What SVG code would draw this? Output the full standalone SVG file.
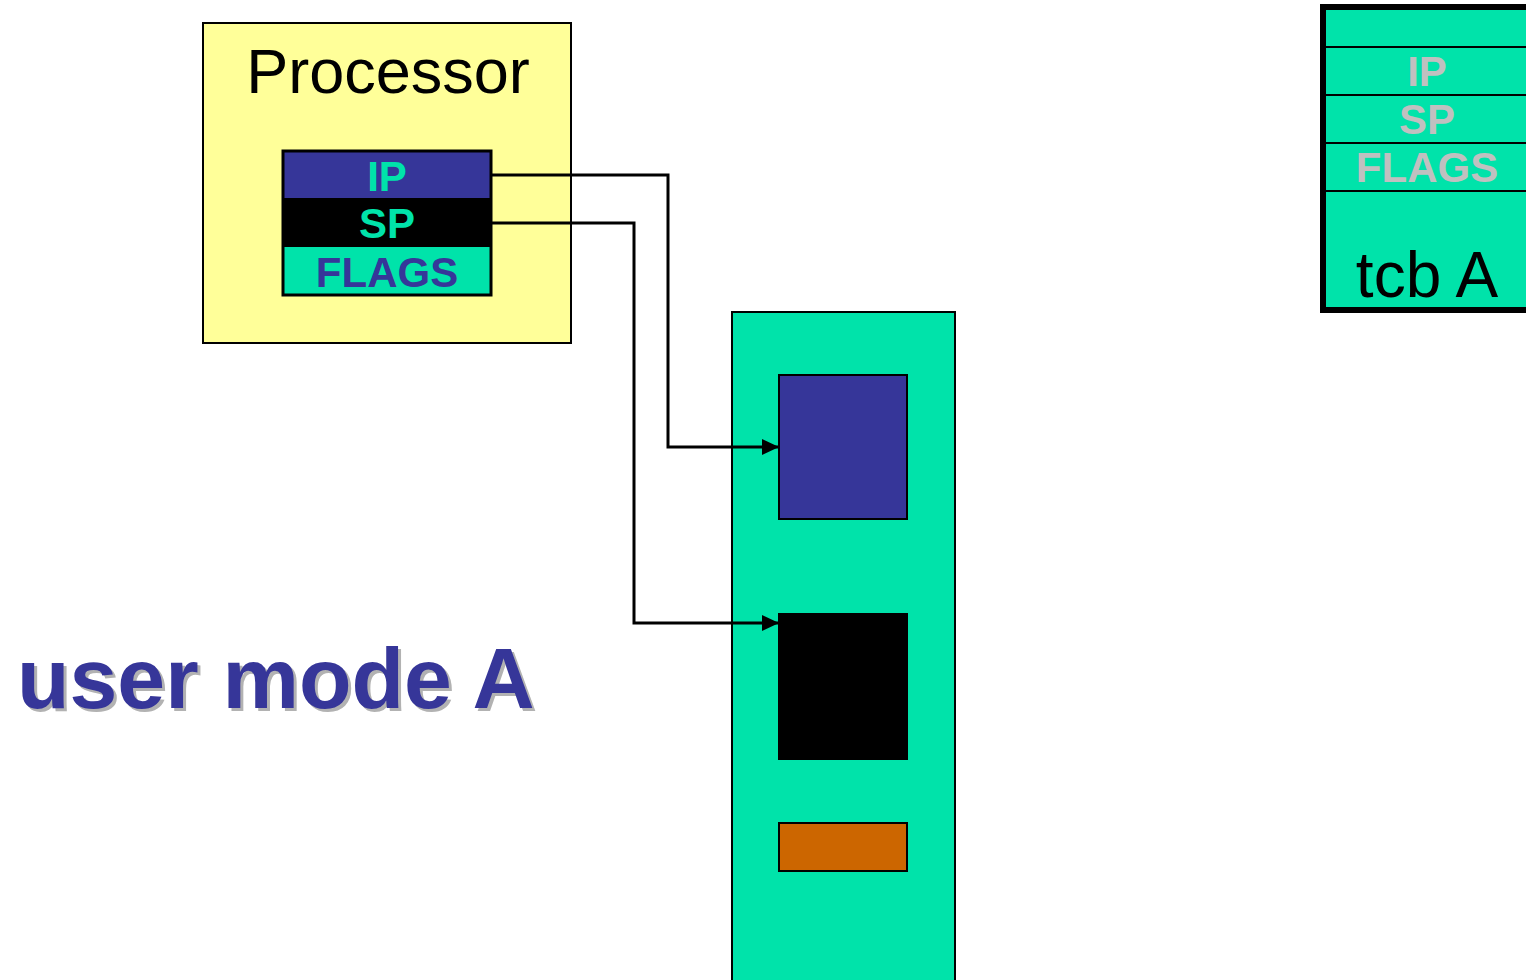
<svg xmlns="http://www.w3.org/2000/svg" width="1526" height="980" viewBox="0 0 1526 980">
  <style>
    .sans { font-family: "Liberation Sans", Arial, sans-serif; }
    .bold { font-weight: bold; }
    .reg { font-size: 42px; text-anchor: middle; }
    .tcbt { font-size: 42px; text-anchor: middle; fill: #C0C0C0; font-weight: bold; }
    .wire { fill: none; stroke: #000; stroke-width: 3; }
  </style>
  <defs>
    <marker id="arrow" markerUnits="userSpaceOnUse" markerWidth="17" markerHeight="16" refX="17" refY="8" orient="auto">
      <path d="M0,0 L17,8 L0,16 Z" fill="#000"/>
    </marker>
  </defs>
  <rect width="1526" height="980" fill="#fff"/>

  <g id="processor">
    <rect x="203" y="23" width="368" height="320" fill="#FFFF99" stroke="#000" stroke-width="2"/>
    <text class="sans" x="388" y="93" font-size="63" text-anchor="middle">Processor</text>
  </g>

  <g id="registers">
    <rect x="283" y="151" width="208" height="47" fill="#363699"/>
    <rect x="283" y="198" width="208" height="49" fill="#000"/>
    <rect x="283" y="247" width="208" height="48" fill="#00E3AA"/>
    <rect x="283" y="151" width="208" height="144" fill="none" stroke="#000" stroke-width="3"/>
    <text class="sans bold reg" x="387" y="191" fill="#00E3AA">IP</text>
    <text class="sans bold reg" x="387" y="238" fill="#00E3AA">SP</text>
    <text class="sans bold reg" x="387" y="287" fill="#363699">FLAGS</text>
  </g>

  <g id="memory">
    <rect x="732" y="312" width="223" height="680" fill="#00E3AA" stroke="#000" stroke-width="2"/>
    <rect x="779" y="375" width="128" height="144" fill="#363699" stroke="#000" stroke-width="2"/>
    <rect x="779" y="614" width="128" height="145" fill="#000" stroke="#000" stroke-width="2"/>
    <rect x="779" y="823" width="128" height="48" fill="#CC6600" stroke="#000" stroke-width="2"/>
  </g>

  <g id="tcb">
    <rect x="1323" y="7" width="220" height="303" fill="#00E3AA" stroke="#000" stroke-width="6"/>
    <line x1="1323" y1="47" x2="1526" y2="47" stroke="#000" stroke-width="2"/>
    <line x1="1323" y1="95" x2="1526" y2="95" stroke="#000" stroke-width="2"/>
    <line x1="1323" y1="143" x2="1526" y2="143" stroke="#000" stroke-width="2"/>
    <line x1="1323" y1="191" x2="1526" y2="191" stroke="#000" stroke-width="2"/>
    <text class="sans tcbt" x="1427" y="86">IP</text>
    <text class="sans tcbt" x="1427" y="134">SP</text>
    <text class="sans tcbt" x="1427" y="182">FLAGS</text>
    <text class="sans" x="1427" y="297" font-size="64" text-anchor="middle">tcb A</text>
  </g>

  <g id="label">
    <text class="sans bold" x="20" y="711" font-size="86" fill="#B2B2B2">user mode A</text>
    <text class="sans bold" x="17" y="708" font-size="86" fill="#363699">user mode A</text>
  </g>

  <g id="connectors">
    <polyline class="wire" points="491,175 668,175 668,447 779,447" marker-end="url(#arrow)"/>
    <polyline class="wire" points="491,223 634,223 634,623 779,623" marker-end="url(#arrow)"/>
  </g>
</svg>
